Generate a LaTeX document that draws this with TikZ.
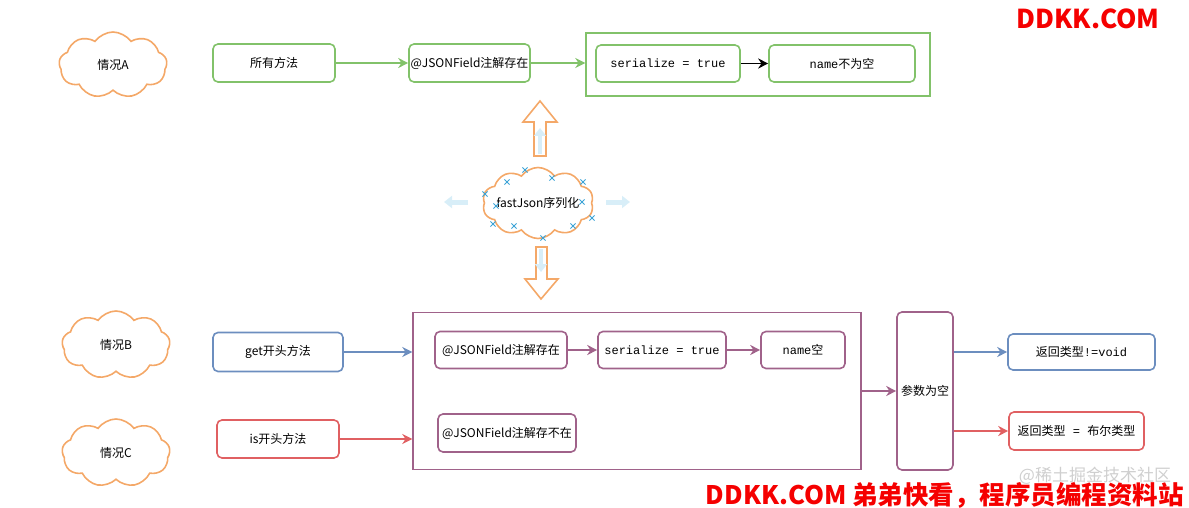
\documentclass[tikz,border=0pt]{standalone}
\usepackage{fontspec}
\setmainfont{Noto Sans CJK SC}
\newfontfamily\mono{Liberation Mono}
\usetikzlibrary{shapes.symbols,arrows.meta}
\definecolor{cgreen}{HTML}{82C26A}
\definecolor{cblue}{HTML}{6C8EBF}
\definecolor{cred}{HTML}{E06062}
\definecolor{cpurple}{HTML}{A0628A}
\definecolor{corange}{HTML}{F4A868}
\definecolor{cmark}{HTML}{3BA3D6}
\definecolor{cfaint}{HTML}{D8EEF8}
\definecolor{wmred}{HTML}{F50000}
\definecolor{wmgray}{HTML}{CFCFCF}
\begin{document}
\begin{tikzpicture}[x=1pt,y=-1pt,
  box/.style={draw,rounded corners=5pt,line width=1.6pt,font=\fontsize{12}{14}\selectfont,inner sep=0pt,align=center},
  gbox/.style={box,draw=cgreen},
  bbox/.style={box,draw=cblue},
  rbox/.style={box,draw=cred},
  pbox/.style={box,draw=cpurple},
  cl/.style={cloud,cloud puffs=9,cloud puff arc=110,aspect=1.6,draw=corange,line width=1.6pt,inner sep=0pt,font=\fontsize{12}{14}\selectfont},
  arr/.style={-{Stealth[length=10pt,width=10pt]},line width=1.6pt},
  blockarrow/.style={draw=corange,line width=1.6pt,fill=white,line join=miter},
  faint/.style={-{Triangle[length=8pt,width=12pt]},line width=5pt,draw=cfaint},
  mk/.style={draw=cmark,line width=0.9pt}
]
\useasboundingbox (0,0) rectangle (1189,508);

% ---- top row (case A)
\node[cl,minimum width=108pt,minimum height=66pt] (cla) at (113,65) {情况A};
\node[gbox,minimum width=122pt,minimum height=38pt] (allm) at (274,63) {所有方法};
\node[gbox,minimum width=121pt,minimum height=38pt] (jsona) at (469.5,63) {@JSONField注解存在};
\node[draw=cgreen,line width=1.4pt,minimum width=344pt,minimum height=63pt,inner sep=0pt] (outa) at (758,64.5) {};
\node[gbox,minimum width=144pt,minimum height=37pt] (sera) at (668,63.5) {\mono serialize = true};
\node[gbox,minimum width=146pt,minimum height=37pt] (namea) at (842,63.5) {{\mono name}不为空};
\draw[arr,draw=cgreen] (allm) -- (jsona);
\draw[arr,draw=cgreen] (jsona) -- (jsona -| outa.west);
\draw[arr,draw=black] (sera) -- (namea);

% ---- centre cloud
\node[cl,cloud ignores aspect,cloud puffs=10,minimum width=111pt,minimum height=71pt,
      label={[font=\fontsize{12}{14}\selectfont]center:fastJson序列化}] (fj) at (538,203) {};
\foreach \p in {(525,170),(507,182),(552,178),(583,182),(485,194),(496,206),(582,202),(592,218),(493,224),(514,226),(573,226),(543,238)}{
  \draw[mk] \p ++(-2.6,-2.6) -- ++(5.2,5.2) \p ++(-2.6,2.6) -- ++(5.2,-5.2);
}
\draw[faint] (468,202) -- (444,202);
\draw[faint] (606,202) -- (630,202);
\draw[blockarrow] (540,101) -- (557,122) -- (546,122) -- (546,156) -- (534,156) -- (534,122) -- (523,122) -- cycle;
\draw[blockarrow] (541,299) -- (558,279) -- (547,279) -- (547,247) -- (536,247) -- (536,279) -- (525,279) -- cycle;
\draw[faint,line width=4pt] (540,154) -- (540,128);
\draw[faint,line width=4pt] (541,249) -- (541,272);

% ---- bottom rows (cases B and C)
\node[cl,minimum width=108pt,minimum height=68pt] (clb) at (116,345) {情况B};
\node[cl,minimum width=108pt,minimum height=68pt] (clc) at (116,453) {情况C};
\node[bbox,minimum width=130pt,minimum height=39pt] (getm) at (278,352) {get开头方法};
\node[rbox,minimum width=122pt,minimum height=38pt] (ism) at (278,439) {is开头方法};
\node[draw=cpurple,line width=1.4pt,minimum width=448pt,minimum height=157pt,inner sep=0pt] (outb) at (637,391) {};
\node[pbox,minimum width=132pt,minimum height=37pt] (jsonb) at (501,350) {@JSONField注解存在};
\node[pbox,minimum width=128pt,minimum height=37pt] (serb) at (662,350) {\mono serialize = true};
\node[pbox,minimum width=84pt,minimum height=37pt] (nameb) at (803,350) {{\mono name}空};
\node[pbox,minimum width=138pt,minimum height=38pt] (jsonc) at (507,433) {@JSONField注解存不在};
\node[pbox,minimum width=56pt,minimum height=158pt] (param) at (925,391) {参数为空};
\node[bbox,minimum width=147pt,minimum height=36pt] (voidb) at (1081.5,352) {返回类型{\mono !=void}};
\node[rbox,minimum width=135pt,minimum height=38pt] (boolb) at (1076.5,431) {返回类型{\mono\ =\ }布尔类型};

\draw[arr,draw=cblue] (getm) -- (getm -| outb.west);
\draw[arr,draw=cred] (ism) -- (ism -| outb.west);
\draw[arr,draw=cpurple] (jsonb) -- (serb);
\draw[arr,draw=cpurple] (serb) -- (nameb);
\draw[arr,draw=cpurple] (outb.east) -- (outb.east -| param.west);
\draw[arr,draw=cblue] (param.east |- voidb.west) -- (voidb.west);
\draw[arr,draw=cred] (param.east |- boolb.west) -- (boolb.west);

% ---- watermarks
\node[text=wmred,font=\fontsize{26}{28}\selectfont\bfseries,inner sep=0pt] (wm1) at (1088,19) {DDKK.COM};
\node[text=wmgray,font=\fontsize{17}{19}\selectfont,inner sep=0pt] (wm2) at (1095,476) {@稀土掘金技术社区};
\node[text=wmred,font=\fontsize{25.5}{27}\selectfont\bfseries,inner sep=0pt,anchor=east] (wm3) at (1184,495) {DDKK.COM 弟弟快看，程序员编程资料站};
\end{tikzpicture}
\end{document}
